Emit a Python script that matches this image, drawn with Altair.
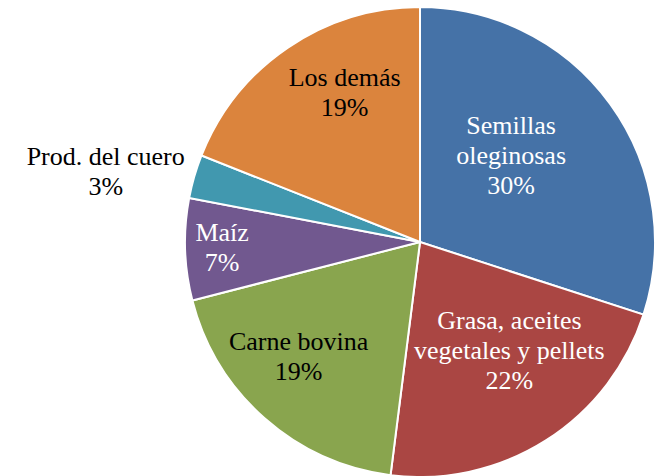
import altair as alt
import pandas as pd

categories = ["Semillas oleginosas", "Grasa, aceites vegetales y pellets", "Carne bovina",
              "Maíz", "Prod. del cuero", "Los demás"]
values = [30, 22, 19, 7, 3, 19]
labels = ["Semillas\noleginosas\n30%", "Grasa, aceites\nvegetales y pellets\n22%",
          "Carne bovina\n19%", "Maíz\n7%", "Prod. del cuero\n3%", "Los demás\n19%"]
colors = ["#4572A7", "#AA4643", "#89A54E", "#71588F", "#4198AF", "#DB843D"]

df = pd.DataFrame({"cat": categories, "value": values, "label": labels,
                   "idx": list(range(len(categories)))})

CX, CY, R = 412, 234, 235

arcs = alt.Chart(df).mark_arc(outerRadius=R, stroke="white", strokeWidth=2).encode(
    theta=alt.Theta("value:Q", stack=True),
    color=alt.Color("cat:N", scale=alt.Scale(domain=categories, range=colors), legend=None),
    order=alt.Order("idx:Q"),
    x=alt.value(CX), y=alt.value(CY),
)

base = alt.Chart(df).transform_window(
    cum="sum(value)", sort=[{"field": "idx"}], frame=[None, 0]
).transform_joinaggregate(total="sum(value)").transform_calculate(
    mid="2*PI*(datum.cum - datum.value/2)/datum.total"
)

# (radius, dx, dy, color) for each label
placement = {
    "Semillas oleginosas": (125, -10, -43, "white"),
    "Grasa, aceites vegetales y pellets": (150, 9, -48, "white"),
    "Carne bovina": (167, -11, -25, "black"),
    "Maíz": (198, 0, -15, "white"),
    "Prod. del cuero": (320, -7, 4, "black"),
    "Los demás": (166, 18, -27, "black"),
}

layers = [arcs]
for c in categories:
    r, dx, dy, col = placement[c]
    layers.append(
        base.transform_filter(alt.datum.cat == c).mark_text(
            radius=r, dx=dx, dy=dy, font="Liberation Serif", fontSize=26,
            lineBreak="\n", lineHeight=30, color=col, align="center", baseline="middle"
        ).encode(
            theta=alt.Theta("mid:Q", scale=None, stack=False),
            text="label:N",
            x=alt.value(CX), y=alt.value(CY),
        )
    )

chart = alt.layer(*layers).properties(
    width=655, height=468, padding=0,
    autosize=alt.AutoSizeParams(type="none"),
).configure_view(stroke=None)

chart.save("out.html", embed_options={"renderer": "svg", "actions": False})
